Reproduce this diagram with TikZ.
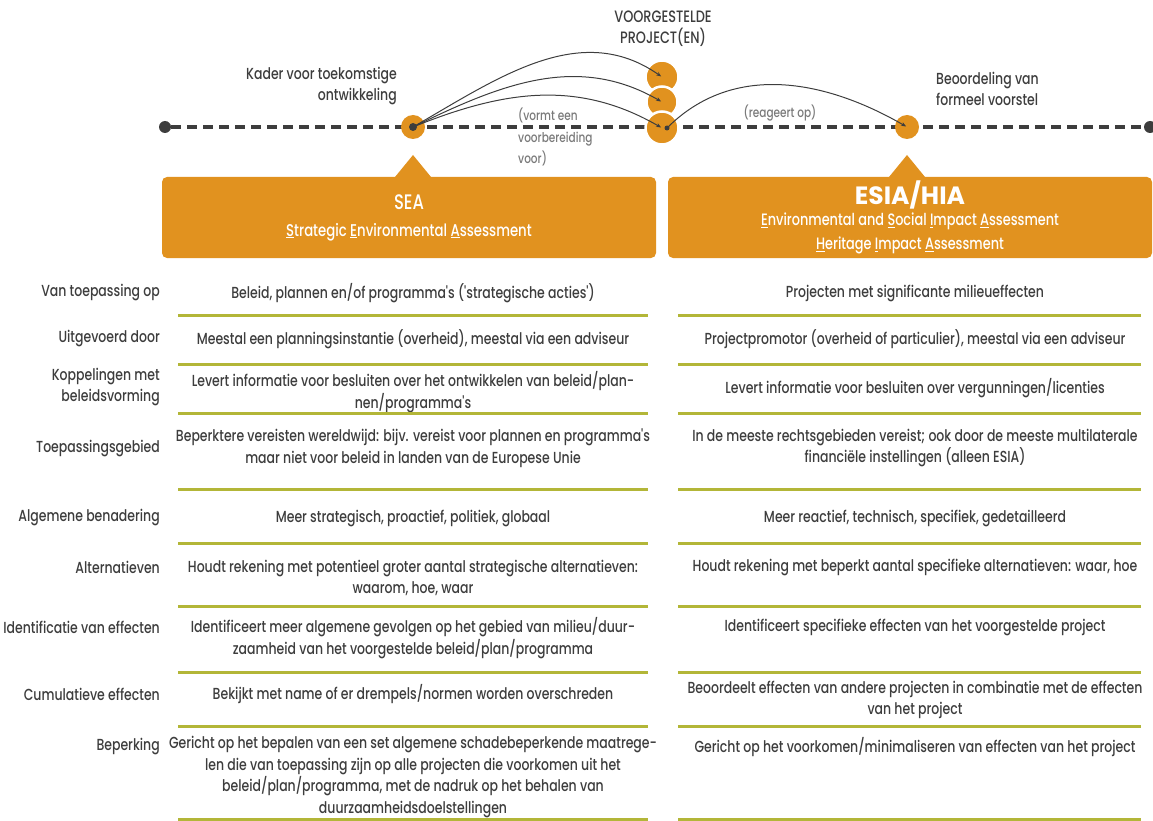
\documentclass[tikz,border=0pt]{standalone}
\usepackage{fontspec}
\setmainfont{Poppins}[UprightFont=* Medium, BoldFont=* Bold, FakeStretch=0.78, Ligatures=TeXOff]
\newfontfamily\widefont{Poppins}[UprightFont=* Bold]
\usepackage{xcolor}
\usepackage{tikz}
\usetikzlibrary{positioning, arrows.meta}

\definecolor{assessOrange}{HTML}{E1921F}
\definecolor{textGray}{HTML}{3D3D3D}
\definecolor{noteGray}{HTML}{7A7A7A}
\definecolor{ruleGreen}{HTML}{B3B638}
\newcommand{\celltext}{\fontsize{16}{21.5}\selectfont}

\begin{document}
\begin{tikzpicture}[x=1pt, y=1pt]
% style: timeline
\tikzstyle{timeline}=[textGray,line width=4pt,dash pattern=on 10pt off 6pt]
% style: arcEdge
\tikzstyle{arcEdge}=[textGray,line width=1pt,-{Stealth[length=5pt,width=4pt]},shorten >=1pt]
% style: endDot
\tikzstyle{endDot}=[circle,fill=textGray,minimum size=12pt,inner sep=0pt]
% style: smallDot
\tikzstyle{smallDot}=[circle,fill=textGray,minimum size=6pt,inner sep=0pt]
% style: stageCircle
\tikzstyle{stageCircle}=[circle,fill=assessOrange,minimum size=24pt,inner sep=0pt]
% style: projectCircle
\tikzstyle{projectCircle}=[circle,fill=assessOrange,draw=white,line width=2.5pt,minimum size=33pt,inner sep=0pt]
% style: assessBox
\tikzstyle{assessBox}=[rectangle,rounded corners=5pt,fill=assessOrange,text=white,align=center,inner sep=0pt]
% style: headLabel
\tikzstyle{headLabel}=[text=textGray,font=\fontsize{16}{21.5}\selectfont,inner sep=0pt]
% style: noteLabel
\tikzstyle{noteLabel}=[text=noteGray,font=\fontsize{13.5}{21.5}\selectfont,inner sep=0pt,align=left]
% style: rowLabel
\tikzstyle{rowLabel}=[anchor=east,align=right,text=textGray,font=\celltext,inner sep=0pt]
% style: cellText
\tikzstyle{cellText}=[align=center,text=textGray,font=\celltext,inner sep=0pt]
% style: rowRule
\tikzstyle{rowRule}=[ruleGreen,line width=3pt]

\useasboundingbox (0,0) rectangle (1153,-821);

% node group: timeline_group
% node: start_dot
\node[endDot] (start_dot) at (165,-127) {};
% node: end_dot
\node[endDot] (end_dot) at (1150,-127) {};
\draw[timeline] (start_dot) -- (end_dot);
% node: sea_stage
\node[stageCircle] (sea_stage) at (413,-127) {};
% node: sea_dot
\node[smallDot, minimum size=8pt] (sea_dot) at (413,-127) {};
% node: esia_stage
\node[stageCircle] (esia_stage) at (907,-127) {};
% node: project_top
\node[projectCircle] (project_top) at (662,-77) {};
% node: project_mid
\node[projectCircle, minimum size=31pt] (project_mid) at (662,-102) {};
% node: project_low
\node[projectCircle] (project_low) at (662,-128) {};
% node: project_dot
\node[smallDot, minimum size=5pt] (project_dot) at (667,-128) {};
% end of node group: timeline_group

% node group: timeline_labels
% node: project_title
\node[headLabel, align=center, font=\fontsize{16.5}{21.5}\selectfont] (project_title) at (663,-28.5) {VOORGESTELDE\\PROJECT(EN)};
% node: framework_label
\node[headLabel, align=right, anchor=east] (framework_label) at (397,-86) {Kader voor toekomstige\\ontwikkeling};
% node: review_label
\node[headLabel, align=left, anchor=west] (review_label) at (936,-89) {Beoordeling van\\formeel voorstel};
% node: prepares_label
\node[noteLabel, anchor=west] (prepares_label) at (518,-137) {(vormt een\\voorbereiding\\voor)};
% node: reacts_label
\node[noteLabel] (reacts_label) at (780,-113) {(reageert op)};
% end of node group: timeline_labels

% edges from sea_dot to the projects
\draw[arcEdge] (sea_dot.center) to[out=30, in=145] (project_top.center);
\draw[arcEdge] (sea_dot.center) to[out=26, in=150] (project_mid.center);
\draw[arcEdge] (sea_dot.center) to[out=22, in=150] (project_low.center);
% edge from project_dot to esia_stage
\draw[arcEdge] (project_dot.center) to[out=45, in=150] (esia_stage.center);

% node group: assessment_boxes
\fill[assessOrange] (395,-177) -- (413,-155) -- (431,-177) -- cycle;
\fill[assessOrange] (889,-177) -- (907,-155) -- (925,-177) -- cycle;
% node: sea_box
\node[assessBox, minimum width=494pt, minimum height=81pt, font=\fontsize{17}{27}\selectfont] (sea_box) at (409,-217.5)
    {{\fontsize{21}{27}\selectfont SEA}\\
     \underline{S}trategic \underline{E}nvironmental \underline{A}ssessment};
% node: esia_box
\node[assessBox, minimum width=484pt, minimum height=81pt, font=\fontsize{16.5}{24}\selectfont] (esia_box) at (910,-217.5)
    {{\widefont\fontsize{25}{23}\selectfont ESIA/HIA}\\[-3pt]
     \underline{E}nvironmental and \underline{S}ocial \underline{I}mpact \underline{A}ssessment\\
     \underline{H}eritage \underline{I}mpact \underline{A}ssessment};
% end of node group: assessment_boxes

% node group: applies_row
\node[rowLabel] (applies_label) at (160,-293) {Van toepassing op};
\node[cellText] (applies_sea) at (413,-293) {Beleid, plannen en/of programma's ('strategische acties')};
\node[cellText] (applies_esia) at (915,-293) {Projecten met significante milieueffecten};
\draw[rowRule] (178,-315) -- (648,-315);
\draw[rowRule] (678,-315) -- (1141,-315);

% node group: executed_row
\node[rowLabel] (executed_label) at (160,-339) {Uitgevoerd door};
\node[cellText] (executed_sea) at (413,-339) {Meestal een planningsinstantie (overheid), meestal via een adviseur};
\node[cellText] (executed_esia) at (915,-339) {Projectpromotor (overheid of particulier), meestal via een adviseur};
\draw[rowRule] (178,-364) -- (648,-364);
\draw[rowRule] (678,-364) -- (1141,-364);

% node group: links_row
\node[rowLabel] (links_label) at (160,-387) {Koppelingen met\\beleidsvorming};
\node[cellText] (links_sea) at (413,-392) {Levert informatie voor besluiten over het ontwikkelen van beleid/plan-\\nen/programma's};
\node[cellText] (links_esia) at (915,-388) {Levert informatie voor besluiten over vergunningen/licenties};
\draw[rowRule] (178,-413) -- (648,-413);
\draw[rowRule] (678,-413) -- (1141,-413);

% node group: scope_row
\node[rowLabel] (scope_label) at (160,-449) {Toepassingsgebied};
\node[cellText] (scope_sea) at (413,-448) {Beperktere vereisten wereldwijd: bijv. vereist voor plannen en programma's\\maar niet voor beleid in landen van de Europese Unie};
\node[cellText] (scope_esia) at (915,-448) {In de meeste rechtsgebieden vereist; ook door de meeste multilaterale\\financiële instellingen (alleen ESIA)};
\draw[rowRule] (178,-489) -- (648,-489);
\draw[rowRule] (678,-489) -- (1141,-489);

% node group: approach_row
\node[rowLabel] (approach_label) at (160,-518) {Algemene benadering};
\node[cellText] (approach_sea) at (413,-518) {Meer strategisch, proactief, politiek, globaal};
\node[cellText] (approach_esia) at (915,-518) {Meer reactief, technisch, specifiek, gedetailleerd};
\draw[rowRule] (178,-543) -- (648,-543);
\draw[rowRule] (678,-543) -- (1141,-543);

% node group: alternatives_row
\node[rowLabel] (alternatives_label) at (160,-567) {Alternatieven};
\node[cellText] (alternatives_sea) at (413,-578) {Houdt rekening met potentieel groter aantal strategische alternatieven:\\waarom, hoe, waar};
\node[cellText] (alternatives_esia) at (915,-567) {Houdt rekening met beperkt aantal specifieke alternatieven: waar, hoe};
\draw[rowRule] (178,-606) -- (648,-606);
\draw[rowRule] (678,-606) -- (1141,-606);

% node group: effects_row
\node[rowLabel] (effects_label) at (160,-627) {Identificatie van effecten};
\node[cellText] (effects_sea) at (413,-638) {Identificeert meer algemene gevolgen op het gebied van milieu/duur-\\zaamheid van het voorgestelde beleid/plan/programma};
\node[cellText] (effects_esia) at (915,-627) {Identificeert specifieke effecten van het voorgestelde project};
\draw[rowRule] (178,-672) -- (648,-672);
\draw[rowRule] (678,-672) -- (1141,-672);

% node group: cumulative_row
\node[rowLabel] (cumulative_label) at (160,-694) {Cumulatieve effecten};
\node[cellText] (cumulative_sea) at (413,-694) {Bekijkt met name of er drempels/normen worden overschreden};
\node[cellText] (cumulative_esia) at (915,-700) {Beoordeelt effecten van andere projecten in combinatie met de effecten\\van het project};
\draw[rowRule] (178,-726) -- (648,-726);
\draw[rowRule] (678,-726) -- (1141,-726);

% node group: mitigation_row
\node[rowLabel] (mitigation_label) at (160,-747) {Beperking};
\node[cellText] (mitigation_sea) at (413,-777) {Gericht op het bepalen van een set algemene schadebeperkende maatrege-\\len die van toepassing zijn op alle projecten die voorkomen uit het\\beleid/plan/programma, met de nadruk op het behalen van\\duurzaamheidsdoelstellingen};
\node[cellText] (mitigation_esia) at (915,-747) {Gericht op het voorkomen/minimaliseren van effecten van het project};
\draw[rowRule] (178,-819) -- (648,-819);
\draw[rowRule] (678,-819) -- (1141,-819);

\end{tikzpicture}
\end{document}
